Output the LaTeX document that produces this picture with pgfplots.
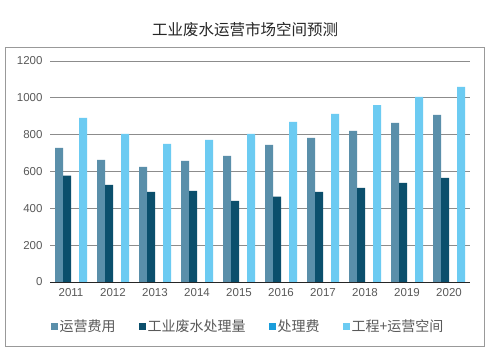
\documentclass[border=0pt]{standalone}
\usepackage{fontspec}
\setmainfont{Liberation Sans}
\newfontfamily\cjk{Noto Sans CJK SC}
\usepackage{pgfplots}
\pgfplotsset{compat=1.18}
\definecolor{cA}{HTML}{5A8FAA}
\definecolor{cB}{HTML}{0B4F6C}
\definecolor{cC}{HTML}{1A9DDB}
\definecolor{cD}{HTML}{6CCBF2}
\definecolor{tgray}{HTML}{595959}
\begin{document}
\begin{tikzpicture}[x=1bp,y=1bp]
\fill[white] (0,0) rectangle (491,363);
\draw[gray!80, line width=0.8bp] (5,17) rectangle (484,316);
\node[font=\cjk\fontsize{15.5bp}{17bp}\selectfont, text=black!85] at (245,333) {工业废水运营市场空间预测};
\begin{axis}[
  at={(50bp,81bp)}, anchor=south west,
  scale only axis, width=420bp, height=221bp,
  xmin=-0.5, xmax=9.5, ymin=0, ymax=1200,
  ytick={0,200,...,1200},
  xtick={0,...,9},
  xticklabels={2011,2012,2013,2014,2015,2016,2017,2018,2019,2020},
  ybar=0pt, bar width=8bp,
  axis line style={draw=none},
  ymajorgrids, grid style={gray!90, line width=0.7bp},
  major tick length=0pt,
  tick label style={font=\fontsize{11.5bp}{13bp}\selectfont, text=tgray},
  /pgf/number format/assume math mode=true,
  /pgf/number format/1000 sep={},
  yticklabel style={xshift=-4bp},
  xticklabel style={yshift=-3bp},
  legend style={at={(0.47,-0.20)}, anchor=center, draw=none, fill=none,
    legend columns=4, font=\cjk\fontsize{14bp}{16bp}\selectfont, text=tgray,
    nodes={inner sep=1bp},
    /tikz/every odd column/.append style={column sep=1bp},
    /tikz/every even column/.append style={column sep=22bp},
    inner sep=0pt},
  legend image code/.code={\fill[#1] (0bp,-3.5bp) rectangle (7bp,3.5bp);},
  clip=false,
]
\addplot[fill=cA, draw=none] coordinates {(0,728) (1,663) (2,625) (3,658) (4,685) (5,745) (6,783) (7,820) (8,864) (9,907)};
\addplot[fill=cB, draw=none] coordinates {(0,577) (1,528) (2,490) (3,495) (4,441) (5,463) (6,490) (7,511) (8,538) (9,566)};
\addplot[fill=cC, draw=none] coordinates {(0,0) (1,0) (2,0) (3,0) (4,0) (5,0) (6,0) (7,0) (8,0) (9,0)};
\addplot[fill=cD, draw=none] coordinates {(0,891) (1,804) (2,750) (3,772) (4,804) (5,869) (6,913) (7,961) (8,1005) (9,1059)};
\legend{运营费用,工业废水处理量,处理费,工程+运营空间}
\draw[black!85, line width=1bp] (axis cs:-0.5,0) -- (axis cs:9.5,0);
\end{axis}
\end{tikzpicture}
\end{document}
